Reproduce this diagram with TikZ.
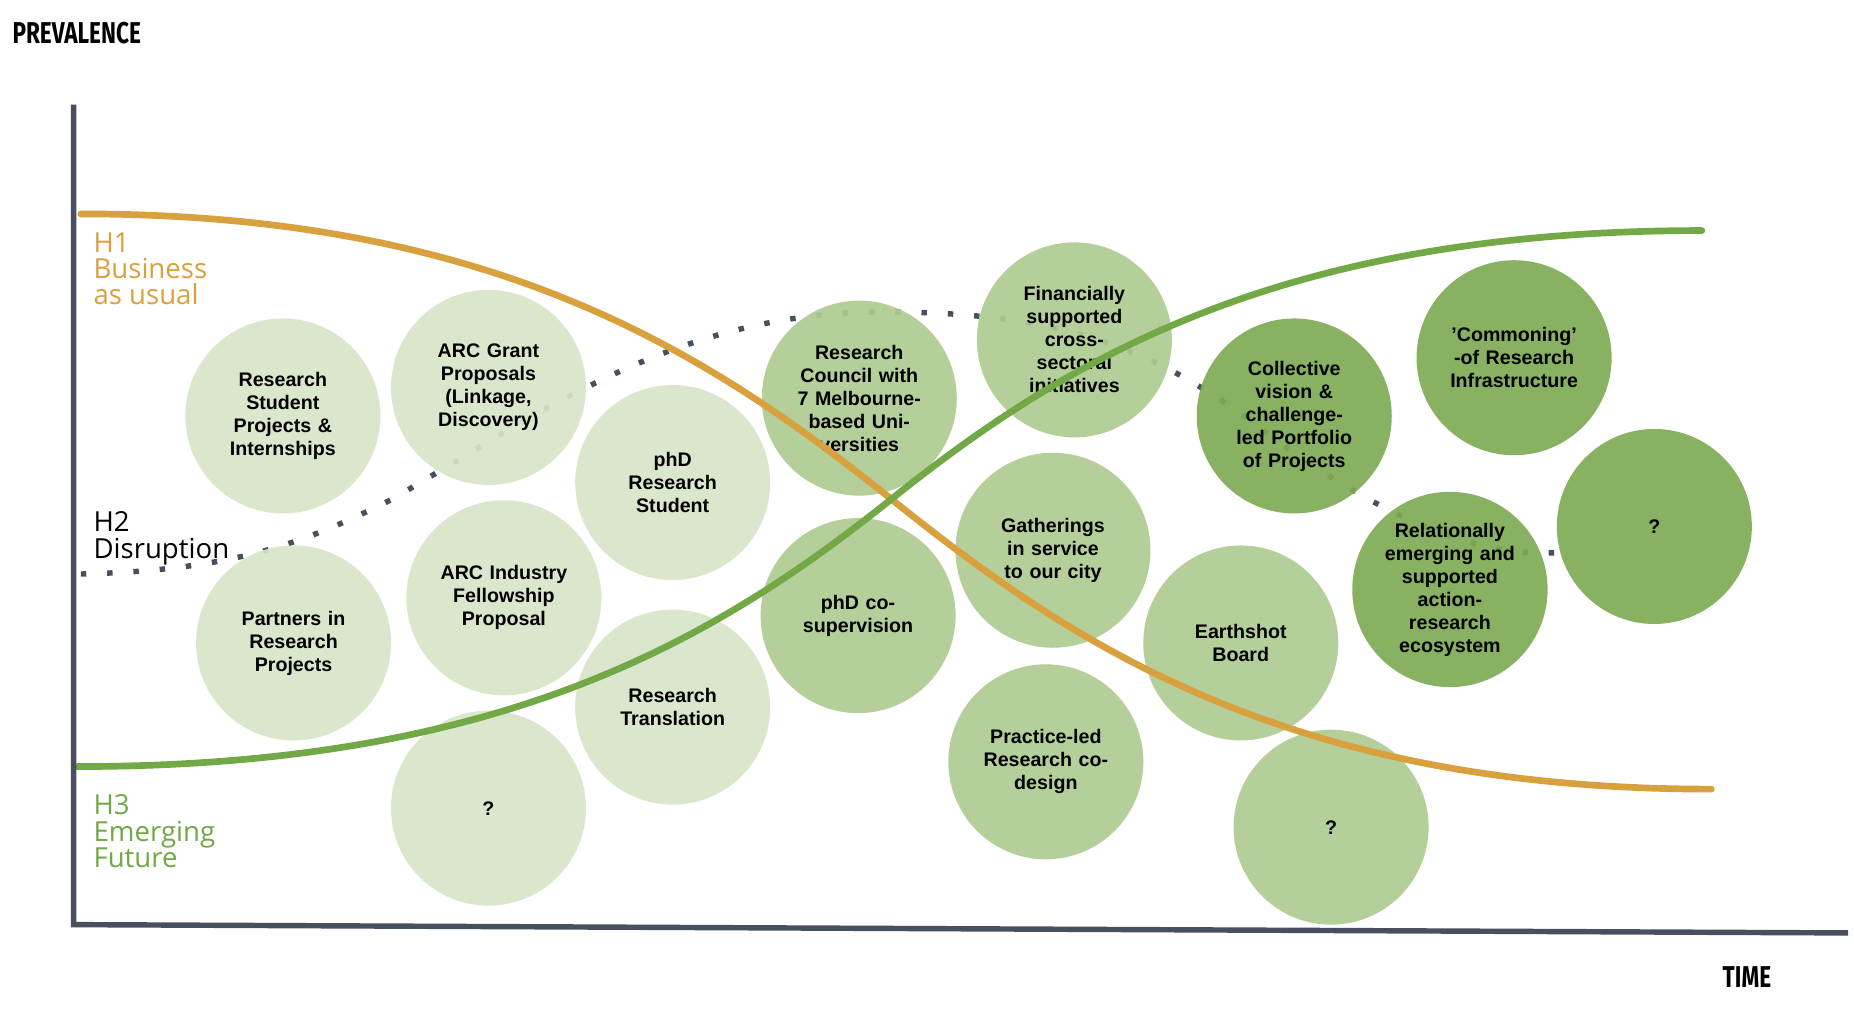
\documentclass[tikz,border=0pt]{standalone}
\usepackage{fontspec}
\setmainfont{Liberation Sans}
\newfontfamily\lab{Open Sans}
\newfontfamily\cond{Fira Sans}
\begin{document}
\begin{tikzpicture}[x=0.01cm,y=-0.01cm,
  bub/.style={circle,minimum size=1.64cm,inner sep=0pt,align=center,text width=1.2cm,font=\fontsize{4.7pt}{5.5pt}\selectfont\bfseries,fill opacity=0.92,text opacity=1},
  lt/.style={bub,fill=lightg},
  md/.style={bub,fill=midg},
  dk/.style={bub,fill=darkg},
  hl/.style={font=\lab\fontsize{6.6pt}{6.3pt}\selectfont,align=left,anchor=north west,inner sep=0pt},
  ax/.style={line width=1.3pt,draw=axc}]
\definecolor{lightg}{HTML}{D9E5C8}
\definecolor{midg}{HTML}{AFCB93}
\definecolor{darkg}{HTML}{7EAB55}
\definecolor{orng}{HTML}{D9A13E}
\definecolor{grn}{HTML}{72A845}
\definecolor{axc}{HTML}{46505F}
\useasboundingbox (0,0) rectangle (1560,855);
\fill[white] (0,0) rectangle (1560,855);
% dotted
\draw[axc,line width=1.3pt,dotted,dash pattern=on 1.3pt off 5pt] (68,483) .. controls (200,480) and (260,455) .. (330,420) .. controls (450,350) and (560,270) .. (720,263) .. controls (900,258) and (980,300) .. (1060,360) .. controls (1140,420) and (1230,470) .. (1310,465);
% circles
\node[lt] (a) at (238,350) {Research Student Projects \& Internships};
\node[lt] (b) at (411,326) {ARC Grant Proposals (Linkage, Discovery)};
\node[lt] (c) at (566,406) {phD\\Research\\Student};
\node[md] (d) at (723,335) {Research Council with 7~Melbourne-based Universities};
\node[md] (e) at (904,286) {Financially supported cross-\\sectoral\\initiatives};
\node[dk] (f) at (1089,350) {Collective vision \& challenge-led Portfolio of Projects};
\node[dk] (g) at (1274,301) {'Commoning'\\-of Research Infrastructure};
\node[dk] (h) at (1392,443) {?};
\node[dk] (i) at (1220,496) {Relationally emerging and supported action-\\research ecosystem};
\node[lt] (j) at (247,541) {Partners in Research Projects};
\node[lt] (k) at (424,503) {ARC Industry Fellowship Proposal};
\node[lt] (l) at (566,595) {Research\\Translation};
\node[lt] (m) at (411,680) {?};
\node[md] (n) at (722,518) {phD co-\\supervision};
\node[md] (o) at (886,463) {Gatherings in service to our city};
\node[md] (p) at (1044,541) {Earthshot\\Board};
\node[md] (q) at (880,641) {Practice-led Research co-\\design};
\node[md] (r) at (1120,696) {?};
% curves
\draw[orng,line width=1.6pt,line cap=round] (68,180) .. controls (420,180) and (600,300) .. (750,420) .. controls (900,540) and (1080,664) .. (1440,664);
\draw[grn,line width=1.6pt,line cap=round] (65,645) .. controls (420,645) and (600,540) .. (750,420) .. controls (900,300) and (1080,194) .. (1432,194);
% axes
\coordinate (o0) at (62,778);
\draw[ax] (62,88) -- (o0) -- (1555,785);
% labels
\node[hl,text=orng] (h1) at (78,195) {H1\\Business\\as usual};
\node[hl,text=black] (h2) at (78,430) {H2\\Disruption};
\node[hl,text=grn] (h3) at (78,668) {H3\\Emerging\\Future};
\node[anchor=west,inner sep=0pt,font=\cond\bfseries\fontsize{7.2pt}{7pt}\selectfont,xscale=0.75] (pv) at (10,28) {PREVALENCE};
\node[anchor=west,inner sep=0pt,font=\cond\bfseries\fontsize{7.2pt}{7pt}\selectfont,xscale=0.75] (tm) at (1449,822) {TIME};
\end{tikzpicture}
\end{document}
